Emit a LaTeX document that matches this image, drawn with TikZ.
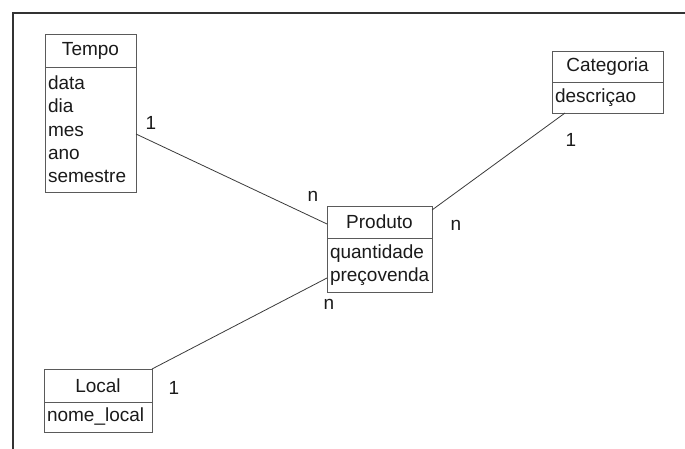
\documentclass[tikz,border=0pt]{standalone}
\usepackage{fontspec}
\setmainfont{Liberation Sans}
\usetikzlibrary{calc}
\definecolor{ink}{HTML}{1A1A1A}
\definecolor{edge}{HTML}{5A5A5A}
\definecolor{wire}{HTML}{3A3A3A}
\definecolor{rim}{HTML}{333333}
\begin{document}
\begin{tikzpicture}[x=1pt,y=-1pt,
  every node/.style={text=ink,font=\fontsize{19}{23.3}\selectfont},
  head/.style={draw=edge,line width=0.9pt,inner sep=0pt,outer sep=0pt,anchor=north west,align=center},
  body/.style={draw=edge,line width=0.9pt,inner xsep=3pt,inner ysep=0pt,outer sep=0pt,anchor=north west,align=left},
  wireline/.style={draw=wire,line width=0.8pt},
  card/.style={inner sep=0pt}]
\useasboundingbox (0,0) rectangle (685,449);
% outer frame (top and left sides only)
\draw[rim,line width=1.6pt] (13,449) -- (13,13) -- (685,13);

% Tempo
\node[head,minimum width=91pt,minimum height=33pt] (tempoH) at (45,34) {Tempo};
\node[body,text width=85pt,minimum height=125pt] (tempoB) at (tempoH.south west) {data\\dia\\mes\\ano\\semestre};

% Categoria
\node[head,minimum width=111pt,minimum height=31pt] (catH) at (552,51) {Categoria};
\node[body,text width=105pt,minimum height=31pt] (catB) at (catH.south west) {descriçao};

% Produto
\node[head,minimum width=105pt,minimum height=32pt] (prodH) at (327,206) {Produto};
\node[body,text width=99pt,minimum height=54pt] (prodB) at (prodH.south west) {quantidade\\preçovenda};

% Local
\node[head,minimum width=108pt,minimum height=33pt] (locH) at (44,369) {Local};
\node[body,text width=102pt,minimum height=30pt] (locB) at (locH.south west) {nome\_local};

% relationships
\draw[wireline] ($(tempoB.north east)+(0,67)$) -- ($(prodH.north west)+(0,18)$);
\draw[wireline] ($(prodH.north east)+(0,4)$) -- ($(catB.south west)+(13,0)$);
\draw[wireline] ($(prodB.north west)+(0,40)$) -- (locH.north east);

% cardinalities
\node[card] (c1) at (151,123) {1};
\node[card] (c2) at (313,196) {n};
\node[card] (c3) at (456,225) {n};
\node[card] (c4) at (571,140) {1};
\node[card] (c5) at (329,304) {n};
\node[card] (c6) at (174,388) {1};
\end{tikzpicture}
\end{document}
